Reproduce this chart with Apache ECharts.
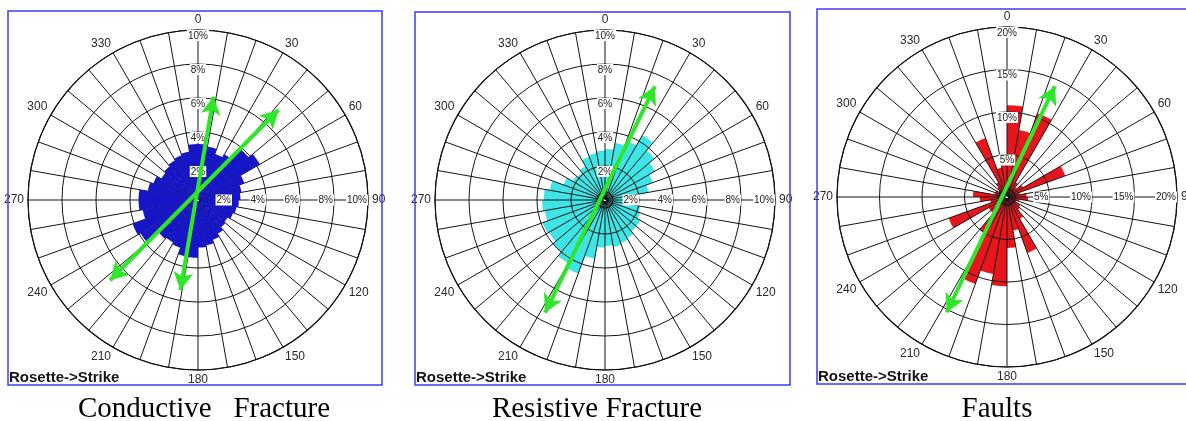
<!DOCTYPE html>
<html>
<head>
<meta charset="utf-8">
<title>Strike rosettes</title>
<script src="https://cdn.jsdelivr.net/npm/echarts@6/dist/echarts.min.js"></script>
<style>
  html, body { margin: 0; padding: 0; background: #fff; }
  #chart { width: 1186px; height: 421px; }
</style>
</head>
<body>
<div id="chart"></div>
<script>
// 10-degree strike bins, clockwise from north
const strikeBins = ['0','10','20','30','40','50','60','70','80','90','100','110',
  '120','130','140','150','160','170','180','190','200','210','220','230',
  '240','250','260','270','280','290','300','310','320','330','340','350'];

// Percentage of picks in each strike bin
const conductive = [3.3, 3.2, 2.9, 3.1, 3.9, 4.2, 2.9, 2.6, 2.5, 2.4, 2.3, 2.2,
  2.0, 2.1, 2.3, 2.5, 2.7, 2.8, 3.4, 3.4, 3.0, 2.9, 3.0, 3.9,
  4.1, 3.3, 3.5, 3.5, 3.0, 2.8, 2.5, 2.6, 2.7, 2.8, 2.9, 3.3];
const resistive = [3.0, 3.4, 3.7, 4.4, 3.8, 3.4, 3.0, 2.6, 1.8, 1.9, 2.1, 2.2,
  2.4, 2.4, 2.6, 2.7, 2.8, 2.7, 2.8, 3.5, 4.6, 4.3, 4.0, 3.8,
  3.9, 3.6, 3.7, 3.6, 3.3, 2.6, 2.2, 2.1, 2.3, 2.7, 2.8, 2.9];
const faults = [10.8, 8.0, 10.5, 2.0, 1.5, 2.2, 7.3, 1.5, 2.3, 2.5, 1.5, 1.2,
  1.8, 2.0, 3.0, 7.0, 4.0, 6.0, 10.5, 9.2, 10.9, 5.0, 2.5, 2.5,
  7.3, 2.0, 3.2, 4.0, 1.5, 1.5, 1.2, 1.5, 2.0, 7.4, 3.5, 4.5];

// Compass labels every 30 degrees
const compassLabels = ['0', '30', '60', '90', '120', '150', '180', '210', '240', '270', '300', '330'];

// Principal trend arrows: [radius %, azimuth deg] for each arrow end
const trendConductive = [
  [[6.15, 8.6], [5.4, 191.1]],
  [[7.1, 41.8], [7.0, 227.6]]
];
const trendResistive = [
  [[7.3, 23.7], [7.5, 208.0]]
];
const trendFaults = [
  [[14.2, 23.4], [15.3, 207.6]]
];

const panelTitles = ['Conductive   Fracture', 'Resistive Fracture', 'Faults'];
const cornerTag = 'Rosette->Strike';

const panels = [
  { center: [198, 200], max: 10, step: 2, data: conductive, color: '#1616c6', gridOnTop: false, arrows: trendConductive,
    frame: [8, 11, 374, 374], title: panelTitles[0], titleX: 204 },
  { center: [605, 200], max: 10, step: 2, data: resistive, color: '#3fe4e6', gridOnTop: true, arrows: trendResistive,
    frame: [415, 12, 375, 373], title: panelTitles[1], titleX: 597 },
  { center: [1007, 197], max: 20, step: 5, data: faults, color: '#e8161c', gridOnTop: true, arrows: trendFaults,
    frame: [817, 9, 380, 375], title: panelTitles[2], titleX: 997 }
];

const R = 170;
const INK = '#141414';
const GREEN = '#2ee62a';

const polar = [], angleAxis = [], radiusAxis = [], series = [], graphic = [];

function bearingOf(from, to) {
  const toXY = p => [p[0] * Math.sin(p[1] * Math.PI / 180), -p[0] * Math.cos(p[1] * Math.PI / 180)];
  const a = toXY(from), b = toXY(to);
  return Math.atan2(b[0] - a[0], -(b[1] - a[1])) * 180 / Math.PI;
}

const ringLabel = {
  color: '#222', fontSize: 10, fontFamily: 'Liberation Sans, Arial, sans-serif',
  backgroundColor: '#fff', padding: [1, 1, 0, 1], margin: 0
};

panels.forEach((p, k) => {
  const base = k * 5;
  const gGrid = base, gBar = base + 1, gNorth = base + 2, gEast = base + 3, gHub = base + 4;
  const gridZ = p.gridOnTop ? 4 : 0;
  for (let i = 0; i < 5; i++) polar.push({ center: p.center, radius: i === 4 ? 8 : R });

  // grid: spokes, outer circle and compass labels
  angleAxis.push({
    polarIndex: gGrid, type: 'value', min: 0, max: 360, interval: 10,
    startAngle: 90, clockwise: true, z: gridZ,
    axisLine: { show: true, lineStyle: { color: INK, width: 1.2 } },
    axisTick: { show: false },
    splitLine: { show: true, lineStyle: { color: INK, width: 1 } },
    axisLabel: {
      margin: 4, color: '#2a2a2a', fontSize: 12, fontFamily: 'Liberation Sans, Arial, sans-serif',
      formatter: v => (v % 30 === 0 && v < 360) ? compassLabels[v / 30] : ''
    }
  });
  radiusAxis.push({
    polarIndex: gGrid, type: 'value', min: 0, max: p.max, interval: p.step, z: gridZ,
    axisLine: { show: false }, axisTick: { show: false }, axisLabel: { show: false },
    splitLine: { show: true, lineStyle: { color: INK, width: 1 } }
  });

  // bars
  angleAxis.push({ polarIndex: gBar, type: 'category', data: strikeBins, startAngle: 90, clockwise: true, boundaryGap: true, show: false });
  radiusAxis.push({ polarIndex: gBar, type: 'value', min: 0, max: p.max, show: false });

  // ring percentages along north
  angleAxis.push({ polarIndex: gNorth, type: 'value', min: 0, max: 360, startAngle: 90, show: false });
  radiusAxis.push({
    polarIndex: gNorth, type: 'value', min: 0, max: p.max, interval: p.step, z: 8,
    axisLine: { show: false }, axisTick: { show: false }, splitLine: { show: false },
    axisLabel: Object.assign({}, ringLabel, { align: 'center', verticalAlign: 'top', formatter: v => v ? v + '%' : '' })
  });

  // ring percentages along east
  angleAxis.push({ polarIndex: gEast, type: 'value', min: 0, max: 360, startAngle: 0, show: false });
  radiusAxis.push({
    polarIndex: gEast, type: 'value', min: 0, max: p.max, interval: p.step, z: 8,
    axisLine: { show: false }, axisTick: { show: false }, splitLine: { show: false },
    axisLabel: Object.assign({}, ringLabel, { align: 'right', verticalAlign: 'middle', formatter: v => v ? v + '%' : '' })
  });

  // small hub circle
  angleAxis.push({
    polarIndex: gHub, type: 'value', min: 0, max: 360, startAngle: 90, z: gridZ,
    axisLine: { show: true, lineStyle: { color: INK, width: 1 } },
    axisTick: { show: false }, axisLabel: { show: false }, splitLine: { show: false }
  });
  radiusAxis.push({ polarIndex: gHub, type: 'value', min: 0, max: 1, show: false });

  series.push({
    type: 'bar', coordinateSystem: 'polar', polarIndex: gBar, data: p.data,
    barCategoryGap: '0%', itemStyle: { color: p.color }, z: 2, silent: true
  });

  p.arrows.forEach(([a, b]) => {
    series.push({
      type: 'line', coordinateSystem: 'polar', polarIndex: gGrid, z: 20, silent: true,
      symbol: 'arrow', symbolSize: [15, 18],
      lineStyle: { color: GREEN, width: 4 }, itemStyle: { color: GREEN },
      data: [
        { value: a, symbolRotate: -bearingOf(b, a) },
        { value: b, symbolRotate: -bearingOf(a, b) }
      ]
    });
  });

  const [fx, fy, fw, fh] = p.frame;
  graphic.push({
    type: 'rect', z: 30, silent: true,
    shape: { x: fx, y: fy, width: fw, height: fh },
    style: { fill: 'none', stroke: '#3b3bff', lineWidth: 1.5 }
  });
  graphic.push({
    type: 'text', z: 30, silent: true, x: fx + 1, y: fy + fh - 7,
    style: { text: cornerTag, font: 'bold 15px "Liberation Sans", Arial, sans-serif', fill: '#151515', textVerticalAlign: 'middle' }
  });
  graphic.push({
    type: 'text', z: 30, silent: true, x: p.titleX, y: 409,
    style: { text: p.title, font: '29px "Liberation Serif", "Times New Roman", serif', fill: '#000', textAlign: 'center', textVerticalAlign: 'middle' }
  });
});

const chart = echarts.init(document.getElementById('chart'), null, { renderer: 'canvas' });
chart.setOption({
  animation: false,
  backgroundColor: '#fff',
  polar, angleAxis, radiusAxis, series, graphic
});
</script>
</body>
</html>
